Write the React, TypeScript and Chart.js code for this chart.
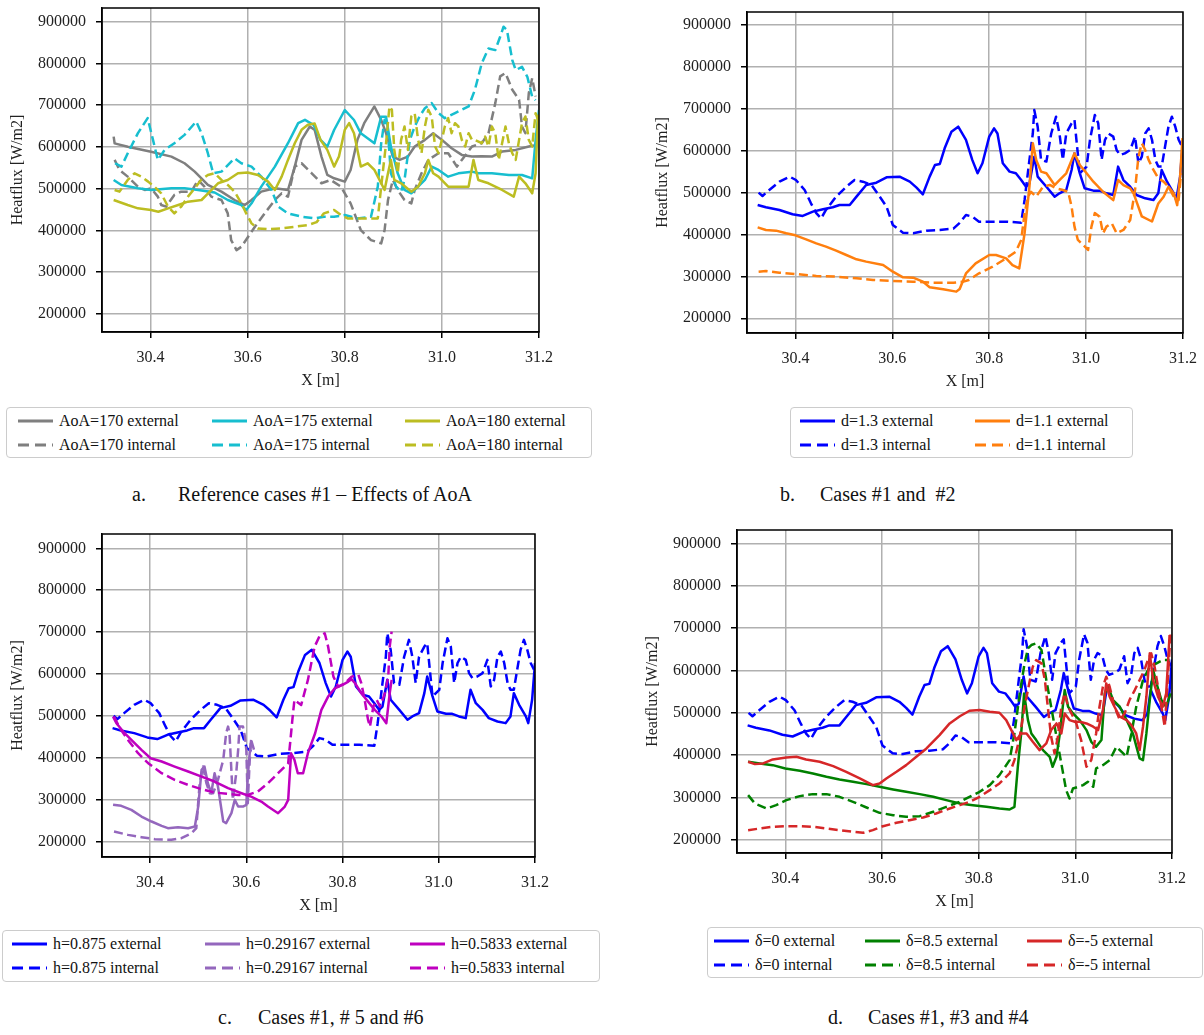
import React, { useEffect, useRef } from "react";
import { Chart, registerables } from "chart.js";

Chart.register(...registerables);

type Pt = [number, number];

// ---------- axes ----------
const xTickValues = [30.4, 30.6, 30.8, 31.0, 31.2];
const yTickValues = [200000, 300000, 400000, 500000, 600000, 700000, 800000, 900000];
const xMin = 30.3;
const xMax = 31.2;

// ---------- panel a : AoA ----------
const aoa170Ext: Pt[] = [[30.324,624700],[30.326,608700],[30.353,600700],[30.401,588700],[30.443,576800],[30.470,561000],[30.491,541000],[30.518,509000],[30.546,493000],[30.573,473000],[30.594,461000],[30.608,473000],[30.628,493000],[30.656,501000],[30.683,497000],[30.697,553000],[30.711,617000],[30.728,649000],[30.738,641000],[30.752,577000],[30.764,533000],[30.778,525000],[30.800,517000],[30.812,545000],[30.826,617000],[30.840,657000],[30.861,697000],[30.875,665000],[30.885,633000],[30.899,577000],[30.913,569000],[30.930,577000],[30.944,601000],[30.965,617000],[30.982,633000],[31.000,617000],[31.020,597000],[31.041,581000],[31.062,577000],[31.082,578000],[31.103,577000],[31.124,589000],[31.152,593000],[31.179,601000],[31.196,605000]];
const aoa170Int: Pt[] = [[30.326,569000],[30.336,545000],[30.353,529000],[30.374,505000],[30.388,497000],[30.401,501000],[30.415,481000],[30.422,461000],[30.432,457000],[30.449,485000],[30.463,493000],[30.484,493000],[30.498,521000],[30.511,505000],[30.525,481000],[30.546,473000],[30.559,441000],[30.566,377000],[30.577,353000],[30.587,361000],[30.601,385000],[30.615,409000],[30.635,441000],[30.656,473000],[30.670,489000],[30.683,481000],[30.697,553000],[30.711,561000],[30.732,537000],[30.752,513000],[30.771,521000],[30.792,505000],[30.812,465000],[30.833,401000],[30.854,377000],[30.875,369000],[30.882,401000],[30.889,473000],[30.899,521000],[30.909,497000],[30.923,473000],[30.937,465000],[30.944,497000],[30.958,537000],[30.972,569000],[30.993,585000],[31.013,585000],[31.031,553000],[31.041,569000],[31.062,601000],[31.082,609000],[31.096,633000],[31.110,705000],[31.120,769000],[31.131,777000],[31.145,737000],[31.159,713000],[31.165,649000],[31.172,633000],[31.179,729000],[31.186,765000],[31.193,721000]];
const aoa175Ext: Pt[] = [[30.324,521000],[30.340,509000],[30.374,501000],[30.401,497000],[30.443,501000],[30.470,501000],[30.498,497000],[30.532,491000],[30.559,473000],[30.587,461000],[30.597,449000],[30.608,465000],[30.628,505000],[30.656,553000],[30.683,609000],[30.704,657000],[30.718,665000],[30.736,652600],[30.750,616700],[30.764,600800],[30.778,640700],[30.800,688500],[30.819,664600],[30.833,632700],[30.861,608700],[30.875,672600],[30.885,672600],[30.895,600800],[30.909,536900],[30.923,497000],[30.937,489000],[30.951,505000],[30.965,521000],[30.979,552900],[30.993,544900],[31.013,528900],[31.034,536900],[31.062,540900],[31.075,536900],[31.103,536900],[31.138,532900],[31.165,532900],[31.186,524900],[31.193,616700],[31.200,688500]];
const aoa175Int: Pt[] = [[30.327,561000],[30.340,553000],[30.353,585000],[30.374,633000],[30.394,669000],[30.405,617000],[30.415,569000],[30.429,593000],[30.449,609000],[30.470,629000],[30.494,661000],[30.505,633000],[30.518,585000],[30.529,537000],[30.546,541000],[30.573,573000],[30.587,561000],[30.608,553000],[30.628,529000],[30.649,497000],[30.663,457000],[30.683,441000],[30.711,433000],[30.738,429000],[30.757,433000],[30.778,433000],[30.800,437000],[30.826,429000],[30.854,433000],[30.868,505000],[30.875,609000],[30.882,665000],[30.889,633000],[30.895,537000],[30.906,505000],[30.916,493000],[30.923,521000],[30.934,617000],[30.944,649000],[30.954,673000],[30.965,693000],[30.979,705000],[30.993,681000],[31.006,669000],[31.027,681000],[31.041,689000],[31.055,697000],[31.068,737000],[31.082,800000],[31.096,836000],[31.110,832000],[31.120,864000],[31.127,888000],[31.134,880000],[31.145,808000],[31.152,784000],[31.165,792000],[31.176,768000],[31.186,720000],[31.193,712000]];
const aoa180Ext: Pt[] = [[30.324,473000],[30.353,461000],[30.374,453000],[30.401,449000],[30.416,445000],[30.436,453000],[30.457,461000],[30.477,469000],[30.505,473000],[30.522,493000],[30.539,513000],[30.559,521000],[30.580,537000],[30.600,539000],[30.621,533000],[30.642,517000],[30.656,497000],[30.670,529000],[30.683,569000],[30.697,609000],[30.711,641000],[30.724,653000],[30.738,656000],[30.750,617000],[30.764,593000],[30.778,553000],[30.788,577000],[30.800,641000],[30.809,657000],[30.819,633000],[30.833,553000],[30.847,561000],[30.861,545000],[30.875,513000],[30.882,497000],[30.889,537000],[30.895,569000],[30.902,521000],[30.916,513000],[30.937,493000],[30.951,505000],[30.965,537000],[30.972,569000],[30.982,537000],[30.993,529000],[31.013,505000],[31.034,505000],[31.055,505000],[31.065,569000],[31.075,521000],[31.096,513000],[31.124,497000],[31.148,481000],[31.159,529000],[31.172,513000],[31.186,489000],[31.193,537000],[31.198,677000]];
const aoa180Int: Pt[] = [[30.326,497000],[30.336,493000],[30.353,521000],[30.367,537000],[30.381,529000],[30.395,517000],[30.408,505000],[30.422,489000],[30.436,457000],[30.449,441000],[30.463,457000],[30.477,481000],[30.491,501000],[30.504,521000],[30.518,533000],[30.532,537000],[30.546,521000],[30.559,509000],[30.573,493000],[30.587,465000],[30.597,441000],[30.608,417000],[30.621,405000],[30.642,403000],[30.669,405000],[30.697,409000],[30.724,413000],[30.742,420000],[30.757,441000],[30.778,449000],[30.792,437000],[30.806,429000],[30.833,429000],[30.868,429000],[30.875,505000],[30.885,609000],[30.892,697000],[30.897,689000],[30.902,593000],[30.909,537000],[30.916,617000],[30.923,649000],[30.930,593000],[30.937,673000],[30.944,681000],[30.951,617000],[30.958,585000],[30.965,649000],[30.972,689000],[30.979,673000],[30.986,601000],[30.993,585000],[31.000,617000],[31.006,649000],[31.013,669000],[31.020,633000],[31.027,657000],[31.034,649000],[31.041,617000],[31.048,601000],[31.055,633000],[31.062,617000],[31.068,617000],[31.082,609000],[31.089,625000],[31.096,601000],[31.103,649000],[31.110,633000],[31.117,569000],[31.124,609000],[31.131,649000],[31.138,609000],[31.145,585000],[31.152,569000],[31.159,617000],[31.165,657000],[31.172,673000],[31.179,617000],[31.186,601000],[31.193,681000],[31.198,665000]];

// ---------- case #1 (shared by b, c, d) ----------
const case1Ext: Pt[] = [[30.322,470400],[30.339,464900],[30.367,458500],[30.394,448200],[30.415,444200],[30.436,454500],[30.457,460100],[30.477,464900],[30.491,470400],[30.512,470400],[30.526,490300],[30.546,518200],[30.567,523700],[30.588,536500],[30.615,538100],[30.636,526100],[30.650,511800],[30.663,495900],[30.677,538100],[30.688,565900],[30.698,568300],[30.708,605700],[30.722,645400],[30.736,657400],[30.752,626000],[30.765,578000],[30.776,546000],[30.786,570000],[30.800,633500],[30.810,653400],[30.817,641000],[30.828,570000],[30.842,550000],[30.855,546000],[30.866,530000],[30.876,514000],[30.883,522000],[30.893,585800],[30.900,538100],[30.918,514000],[30.935,490300],[30.945,498300],[30.959,506200],[30.970,554000],[30.976,593700],[30.987,546000],[30.997,510200],[31.015,504600],[31.028,504600],[31.042,498300],[31.056,494300],[31.066,562000],[31.077,530000],[31.091,514000],[31.104,494300],[31.122,486300],[31.139,482300],[31.149,498300],[31.156,554000],[31.167,526100],[31.181,498300],[31.186,482300],[31.194,538100],[31.200,626000]];
const case1Int: Pt[] = [[30.324,500000],[30.332,491900],[30.346,506200],[30.367,526100],[30.388,538100],[30.401,530000],[30.419,506200],[30.432,474400],[30.443,451000],[30.453,438600],[30.463,458500],[30.484,490300],[30.505,514000],[30.522,530000],[30.539,526100],[30.557,518200],[30.574,490300],[30.588,466500],[30.601,422700],[30.622,404400],[30.643,402800],[30.670,409200],[30.698,410800],[30.726,414000],[30.738,426700],[30.752,446600],[30.765,442600],[30.779,430600],[30.807,430600],[30.835,430600],[30.866,428300],[30.873,482300],[30.883,578000],[30.890,641000],[30.893,697000],[30.900,657400],[30.907,578000],[30.918,574000],[30.928,641000],[30.938,681200],[30.945,641000],[30.952,578000],[30.959,641000],[30.970,665300],[30.976,673300],[30.980,626000],[30.987,546000],[30.994,554000],[31.001,562000],[31.008,626000],[31.018,685200],[31.025,665300],[31.032,578000],[31.039,626000],[31.046,641000],[31.056,633500],[31.063,601700],[31.070,589800],[31.080,593700],[31.091,601700],[31.101,633500],[31.108,570000],[31.115,585800],[31.122,641000],[31.129,653400],[31.136,626000],[31.143,578000],[31.149,562000],[31.156,562000],[31.163,610000],[31.170,657400],[31.177,681200],[31.184,657400],[31.191,626000],[31.198,609800]];

// ---------- panel b : d = 1.1 ----------
const d11Ext: Pt[] = [[30.322,417100],[30.339,410800],[30.360,409200],[30.381,402800],[30.400,398000],[30.422,388500],[30.443,378900],[30.463,371000],[30.484,361400],[30.505,351100],[30.526,340800],[30.546,335200],[30.581,327200],[30.601,311300],[30.622,297800],[30.643,297000],[30.663,287500],[30.677,273900],[30.705,269200],[30.732,263600],[30.739,270000],[30.752,307000],[30.772,331000],[30.800,351000],[30.814,351000],[30.835,343000],[30.848,327000],[30.862,319000],[30.873,403000],[30.883,514000],[30.890,617600],[30.897,578000],[30.907,550000],[30.918,546000],[30.935,518000],[30.945,530000],[30.959,546000],[30.976,594000],[30.987,566000],[31.001,546000],[31.015,526000],[31.035,502000],[31.056,482000],[31.066,530000],[31.077,518000],[31.091,510000],[31.098,498000],[31.115,443000],[31.136,431000],[31.149,474000],[31.160,490000],[31.170,514000],[31.181,498000],[31.188,470000],[31.194,538000],[31.199,630000]];
const d11Int: Pt[] = [[30.324,311300],[30.339,312900],[30.367,308900],[30.400,305700],[30.443,301000],[30.484,299400],[30.526,295400],[30.560,291400],[30.600,289000],[30.643,287500],[30.684,285100],[30.726,285100],[30.745,287000],[30.758,291400],[30.779,307400],[30.807,323300],[30.835,343000],[30.855,359000],[30.866,387000],[30.873,451000],[30.880,490300],[30.886,502000],[30.897,490300],[30.911,514000],[30.925,518200],[30.938,510200],[30.952,506200],[30.963,502000],[30.970,466500],[30.976,418700],[30.983,387000],[30.994,375000],[31.004,363000],[31.011,418700],[31.018,451000],[31.028,442600],[31.035,402800],[31.042,418700],[31.053,426700],[31.063,402800],[31.077,410800],[31.091,434700],[31.101,506200],[31.108,585800],[31.115,617600],[31.122,601700],[31.129,578000],[31.139,554000],[31.149,534200],[31.160,526100],[31.170,514000],[31.181,490300],[31.191,482300],[31.196,546000]];

// ---------- panel c : h ----------
const h29Ext: Pt[] = [[30.323,287100],[30.340,284700],[30.361,275100],[30.382,259200],[30.403,247300],[30.424,236900],[30.437,231400],[30.458,233800],[30.479,231400],[30.493,235300],[30.500,283100],[30.507,370700],[30.513,378600],[30.520,338800],[30.527,314900],[30.534,362700],[30.541,330900],[30.552,247300],[30.558,243300],[30.569,267200],[30.576,299000],[30.583,283100],[30.593,283100],[30.600,287100],[30.603,354700],[30.607,410500],[30.610,442300]];
const h29Int: Pt[] = [[30.325,223400],[30.354,215400],[30.382,209900],[30.410,205100],[30.444,203500],[30.465,207500],[30.486,219400],[30.496,231400],[30.503,338800],[30.510,378600],[30.517,338800],[30.524,314900],[30.531,314900],[30.541,346800],[30.552,394500],[30.558,458200],[30.562,474100],[30.565,458200],[30.572,299000],[30.579,362700],[30.583,418400],[30.586,474100],[30.593,474100],[30.597,450200],[30.600,418400],[30.603,291100],[30.607,394500],[30.610,442300],[30.616,418400]];
const h58Ext: Pt[] = [[30.323,498000],[30.330,482100],[30.344,462200],[30.361,442300],[30.382,418400],[30.401,398500],[30.424,390600],[30.451,378600],[30.479,366700],[30.507,354700],[30.534,342800],[30.562,326900],[30.590,314900],[30.610,306900],[30.631,295000],[30.645,283100],[30.666,267200],[30.680,283100],[30.687,299000],[30.693,410500],[30.700,394500],[30.707,362700],[30.718,362700],[30.728,410500],[30.743,458200],[30.756,514000],[30.770,545800],[30.784,565700],[30.800,573600],[30.812,581600],[30.819,587000],[30.826,577600],[30.839,553700],[30.853,533800],[30.867,514000],[30.881,498000],[30.891,482100],[30.898,553700],[30.902,585600]];
const h58Int: Pt[] = [[30.325,498000],[30.337,470200],[30.354,442300],[30.375,410500],[30.396,386600],[30.424,362700],[30.451,346800],[30.479,334800],[30.507,324500],[30.534,316500],[30.562,313400],[30.583,310900],[30.603,310900],[30.624,318900],[30.645,338800],[30.666,362700],[30.687,386600],[30.697,506000],[30.700,537800],[30.714,525900],[30.728,585600],[30.742,665200],[30.752,690000],[30.763,697000],[30.770,665000],[30.781,593500],[30.791,569700],[30.805,577600],[30.819,593500],[30.833,597500],[30.839,577600],[30.846,537800],[30.853,490100],[30.857,474100],[30.864,521900],[30.871,537800],[30.878,521900],[30.888,553700],[30.895,593500],[30.898,665200],[30.902,701000]];

// ---------- panel d : delta ----------
const dl85Ext: Pt[] = [[30.323,384500],[30.347,380600],[30.374,376600],[30.400,368800],[30.430,363300],[30.457,357000],[30.485,349100],[30.512,342800],[30.540,337300],[30.568,331800],[30.595,325500],[30.623,319200],[30.650,313700],[30.678,308200],[30.706,301900],[30.733,294000],[30.761,286200],[30.788,282200],[30.816,278300],[30.843,274300],[30.864,271900],[30.874,278300],[30.881,372700],[30.888,451400],[30.894,545900],[30.902,482900],[30.909,451400],[30.919,435700],[30.933,412100],[30.947,396300],[30.953,372700],[30.961,396300],[30.968,451400],[30.974,514400],[30.978,553700],[30.985,514400],[30.995,498600],[31.009,482900],[31.023,459300],[31.033,431700],[31.043,419900],[31.054,435700],[31.061,545900],[31.068,561600],[31.078,530100],[31.092,514400],[31.106,482900],[31.119,451400],[31.133,392400],[31.140,388500],[31.147,451400],[31.154,530100],[31.161,600900],[31.168,569500],[31.178,530100],[31.188,514400],[31.197,545900]];
const dl85Int: Pt[] = [[30.323,305800],[30.337,286200],[30.361,274300],[30.381,282200],[30.402,294000],[30.430,303500],[30.457,308200],[30.485,308200],[30.512,301900],[30.540,290100],[30.568,276700],[30.595,264100],[30.623,258600],[30.650,254700],[30.678,256200],[30.706,266500],[30.733,278300],[30.761,290100],[30.781,301900],[30.802,313700],[30.823,329400],[30.843,353000],[30.864,388500],[30.874,451400],[30.885,545900],[30.895,616700],[30.902,652100],[30.909,660000],[30.919,663900],[30.930,648200],[30.940,577300],[30.950,514400],[30.961,443500],[30.971,380600],[30.981,317600],[30.988,297900],[30.995,321400],[31.006,325500],[31.016,329400],[31.026,337300],[31.037,325500],[31.043,368800],[31.057,376600],[31.071,388500],[31.085,419900],[31.099,404200],[31.106,396300],[31.116,451400],[31.126,514400],[31.140,577300],[31.154,608800],[31.168,616700],[31.181,624500],[31.195,624500]];
const dlm5Ext: Pt[] = [[30.323,384500],[30.337,379000],[30.354,380600],[30.374,390000],[30.402,394800],[30.423,396300],[30.443,390000],[30.471,384500],[30.499,374300],[30.526,360900],[30.554,345200],[30.581,329400],[30.595,333400],[30.609,345200],[30.630,360900],[30.650,376600],[30.671,396300],[30.692,416000],[30.719,447500],[30.740,475000],[30.761,492000],[30.781,504900],[30.802,506500],[30.823,502600],[30.843,500200],[30.857,482900],[30.871,451400],[30.878,435700],[30.888,451400],[30.899,451400],[30.912,431700],[30.926,412100],[30.940,427800],[30.950,459300],[30.961,475000],[30.971,451400],[30.978,498600],[30.988,482900],[30.999,479000],[31.009,479000],[31.023,475000],[31.037,467200],[31.047,459300],[31.057,506500],[31.064,569500],[31.071,538000],[31.081,514400],[31.092,490800],[31.106,482900],[31.116,471100],[31.126,451400],[31.133,412100],[31.140,467200],[31.147,538000],[31.154,640300],[31.161,577300],[31.171,538000],[31.181,514400],[31.188,545900],[31.195,683600]];
const dlm5Int: Pt[] = [[30.323,223200],[30.347,227100],[30.374,231100],[30.402,232600],[30.430,232600],[30.457,231100],[30.485,227100],[30.512,223200],[30.540,219300],[30.561,216900],[30.581,223200],[30.602,232600],[30.630,240500],[30.657,246800],[30.685,253100],[30.712,262500],[30.740,274300],[30.761,282200],[30.781,290100],[30.802,301900],[30.823,317600],[30.843,333400],[30.864,357000],[30.874,388500],[30.885,443500],[30.895,514400],[30.906,577300],[30.912,608800],[30.919,624500],[30.930,616700],[30.937,577300],[30.943,514400],[30.950,443500],[30.957,404200],[30.964,443500],[30.971,514400],[30.978,545900],[30.985,514400],[30.992,498600],[31.002,475000],[31.012,435700],[31.023,372700],[31.033,388500],[31.043,451400],[31.050,514400],[31.057,561600],[31.064,585200],[31.071,561600],[31.081,514400],[31.092,482900],[31.102,498600],[31.112,530100],[31.123,553700],[31.133,577300],[31.143,600900],[31.150,624500],[31.157,640300],[31.164,608800],[31.171,561600],[31.178,514400],[31.185,467200],[31.192,593000],[31.197,687600]];

// ---------- styling ----------
const FONT = "'Liberation Serif', 'Times New Roman', Tinos, serif";
const TICK_SIZE = 16;
const TITLE_SIZE = 16;
const GRAY = "#7f7f7f";
const CYAN = "#17becf";
const OLIVE = "#bcbd22";
const BLUE = "#0000ff";
const ORANGE = "#ff7f0e";
const PURPLE = "#9467bd";
const MAGENTA = "#bf00bf";
const GREEN = "#008000";
const RED = "#d62728";

interface Series { label: string; data: Pt[]; color: string; dashed: boolean; }
interface PanelDef {
  left: number; top: number; width: number; height: number;
  plot: { l: number; t: number; r: number; b: number };
  yMin: number; yMax: number;
  series: Series[];
  legend: { left: number; top: number; width: number; height: number; cols: number[] };
  caption: { letter: string; text: string; letterX: number; textX: number; y: number };
}

const panels: PanelDef[] = [
  {
    left: 0, top: 0, width: 560, height: 392,
    plot: { l: 102, t: 8, r: 539, b: 332 },
    yMin: 156900, yMax: 932800,
    series: [
      { label: "AoA=170 external", data: aoa170Ext, color: GRAY, dashed: false },
      { label: "AoA=170 internal", data: aoa170Int, color: GRAY, dashed: true },
      { label: "AoA=175 external", data: aoa175Ext, color: CYAN, dashed: false },
      { label: "AoA=175 internal", data: aoa175Int, color: CYAN, dashed: true },
      { label: "AoA=180 external", data: aoa180Ext, color: OLIVE, dashed: false },
      { label: "AoA=180 internal", data: aoa180Int, color: OLIVE, dashed: true },
    ],
    legend: { left: 6, top: 407, width: 586, height: 51, cols: [12, 206, 399] },
    caption: { letter: "a.", text: "Reference cases #1 – Effects of AoA", letterX: 132, textX: 178, y: 494 },
  },
  {
    left: 600, top: 0, width: 600, height: 393,
    plot: { l: 147, t: 12, r: 583, b: 333 },
    yMin: 164900, yMax: 931000,
    series: [
      { label: "d=1.3 external", data: case1Ext, color: BLUE, dashed: false },
      { label: "d=1.3 internal", data: case1Int, color: BLUE, dashed: true },
      { label: "d=1.1 external", data: d11Ext, color: ORANGE, dashed: false },
      { label: "d=1.1 internal", data: d11Int, color: ORANGE, dashed: true },
    ],
    legend: { left: 790, top: 407, width: 343, height: 51, cols: [10, 185] },
    caption: { letter: "b.", text: "Cases #1 and  #2", letterX: 780, textX: 820, y: 494 },
  },
  {
    left: 0, top: 520, width: 560, height: 397,
    plot: { l: 102, t: 14, r: 535, b: 337 },
    yMin: 162500, yMax: 934200,
    series: [
      { label: "h=0.875 external", data: case1Ext, color: BLUE, dashed: false },
      { label: "h=0.875 internal", data: case1Int, color: BLUE, dashed: true },
      { label: "h=0.29167 external", data: h29Ext, color: PURPLE, dashed: false },
      { label: "h=0.29167 internal", data: h29Int, color: PURPLE, dashed: true },
      { label: "h=0.5833 external", data: h58Ext, color: MAGENTA, dashed: false },
      { label: "h=0.5833 internal", data: h58Int, color: MAGENTA, dashed: true },
    ],
    legend: { left: 2, top: 930, width: 598, height: 52, cols: [10, 203, 408] },
    caption: { letter: "c.", text: "Cases #1, # 5 and #6", letterX: 218, textX: 258, y: 1017 },
  },
  {
    left: 600, top: 520, width: 600, height: 393,
    plot: { l: 137, t: 10, r: 572, b: 333 },
    yMin: 169300, yMax: 931400,
    series: [
      { label: "δ=0 external", data: case1Ext, color: BLUE, dashed: false },
      { label: "δ=0 internal", data: case1Int, color: BLUE, dashed: true },
      { label: "δ=8.5 external", data: dl85Ext, color: GREEN, dashed: false },
      { label: "δ=8.5 internal", data: dl85Int, color: GREEN, dashed: true },
      { label: "δ=-5 external", data: dlm5Ext, color: RED, dashed: false },
      { label: "δ=-5 internal", data: dlm5Int, color: RED, dashed: true },
    ],
    legend: { left: 707, top: 927, width: 496, height: 51, cols: [7, 158, 320] },
    caption: { letter: "d.", text: "Cases #1, #3 and #4", letterX: 828, textX: 868, y: 1017 },
  },
];

const framePlugin = {
  id: "frame",
  afterDatasetsDraw(chart: any) {
    const { ctx, chartArea } = chart;
    ctx.save();
    ctx.strokeStyle = "#000";
    ctx.lineWidth = 1.5;
    ctx.strokeRect(chartArea.left, chartArea.top, chartArea.right - chartArea.left, chartArea.bottom - chartArea.top);
    ctx.restore();
  },
};

function ChartPanel({ p }: { p: PanelDef }) {
  const ref = useRef<HTMLCanvasElement>(null);
  useEffect(() => {
    const { plot } = p;
    const xScaleH = p.height - plot.b;
    const titleHalf = (TITLE_SIZE * 1.2) / 2;
    const chart = new Chart(ref.current as HTMLCanvasElement, {
      type: "line",
      data: {
        datasets: p.series.map((s, i) => ({
          label: s.label,
          data: s.data.map(([x, y]) => ({ x, y })),
          borderColor: s.color,
          backgroundColor: s.color,
          borderWidth: 2.5,
          borderDash: s.dashed ? [9, 4.5] : [],
          borderCapStyle: "butt",
          borderJoinStyle: "round",
          pointRadius: 0,
          fill: false,
          tension: 0,
          order: -i,
        })),
      },
      options: {
        animation: false,
        responsive: false,
        layout: { padding: { left: 0, top: plot.t, right: p.width - plot.r, bottom: 0 } },
        plugins: { legend: { display: false }, tooltip: { enabled: false } },
        scales: {
          x: {
            type: "linear",
            min: xMin,
            max: xMax,
            afterBuildTicks: (s: any) => { s.ticks = xTickValues.map((v) => ({ value: v })); },
            afterFit: (s: any) => { s.height = xScaleH; s.paddingLeft = 0; s.paddingRight = 0; },
            ticks: {
              callback: (v: any) => Number(v).toFixed(1),
              font: { family: FONT, size: TICK_SIZE },
              color: "#222",
              padding: 10,
              maxRotation: 0,
              autoSkip: false,
            },
            grid: { color: "#b0b0b0", lineWidth: 1.5, tickLength: 6, tickColor: "#000", tickWidth: 1.5 },
            border: { color: "#000", width: 1.5 },
            title: {
              display: true,
              text: "X [m]",
              font: { family: FONT, size: TITLE_SIZE },
              color: "#222",
              padding: { top: 0, bottom: xScaleH - 49 - titleHalf },
            },
          },
          y: {
            type: "linear",
            min: p.yMin,
            max: p.yMax,
            afterBuildTicks: (s: any) => { s.ticks = yTickValues.map((v) => ({ value: v })); },
            afterFit: (s: any) => { s.width = plot.l; s.paddingTop = 0; s.paddingBottom = 0; },
            ticks: {
              callback: (v: any) => String(v),
              font: { family: FONT, size: TICK_SIZE },
              color: "#222",
              padding: 10,
            },
            grid: { color: "#b0b0b0", lineWidth: 1.5, tickLength: 6, tickColor: "#000", tickWidth: 1.5 },
            border: { color: "#000", width: 1.5 },
            title: {
              display: true,
              text: "Heatflux [W/m2]",
              font: { family: FONT, size: TITLE_SIZE },
              color: "#222",
              padding: { top: plot.l - 84 - titleHalf, bottom: 0 },
            },
          },
        },
      } as any,
      plugins: [framePlugin],
    });
    return () => chart.destroy();
  }, []);
  return (
    <canvas
      ref={ref}
      width={p.width}
      height={p.height}
      style={{ position: "absolute", left: p.left, top: p.top, width: p.width, height: p.height }}
    />
  );
}

function LegendBox({ p }: { p: PanelDef }) {
  const lg = p.legend;
  return (
    <div
      style={{
        position: "absolute",
        left: lg.left,
        top: lg.top,
        width: lg.width,
        height: lg.height,
        boxSizing: "border-box",
        border: "1px solid #cccccc",
        borderRadius: 4,
        background: "#fff",
        fontFamily: FONT,
        fontSize: 16,
        color: "#111",
      }}
    >
      {p.series.map((s, i) => {
        const col = Math.floor(i / 2);
        const row = i % 2;
        return (
          <div
            key={i}
            style={{
              position: "absolute",
              left: lg.cols[col] - 1,
              top: 3 + row * 24,
              height: 20,
              display: "flex",
              alignItems: "center",
              whiteSpace: "nowrap",
            }}
          >
            <svg width={35} height={10} style={{ marginRight: 6 }}>
              <line
                x1={0}
                y1={5}
                x2={35}
                y2={5}
                stroke={s.color}
                strokeWidth={3}
                strokeDasharray={s.dashed ? "11 6" : undefined}
              />
            </svg>
            <span>{s.label}</span>
          </div>
        );
      })}
    </div>
  );
}

function Caption({ p }: { p: PanelDef }) {
  const c = p.caption;
  const base: React.CSSProperties = {
    position: "absolute",
    top: c.y - 12,
    fontFamily: FONT,
    fontSize: 20,
    lineHeight: "24px",
    color: "#111",
    whiteSpace: "pre",
  };
  return (
    <>
      <span style={{ ...base, left: c.letterX }}>{c.letter}</span>
      <span style={{ ...base, left: c.textX }}>{c.text}</span>
    </>
  );
}

export default function App() {
  return (
    <div style={{ position: "absolute", left: 0, top: 0, width: 1204, height: 1035, background: "#fff", overflow: "hidden" }}>
      {panels.map((p, i) => (
        <React.Fragment key={i}>
          <ChartPanel p={p} />
          <LegendBox p={p} />
          <Caption p={p} />
        </React.Fragment>
      ))}
    </div>
  );
}
